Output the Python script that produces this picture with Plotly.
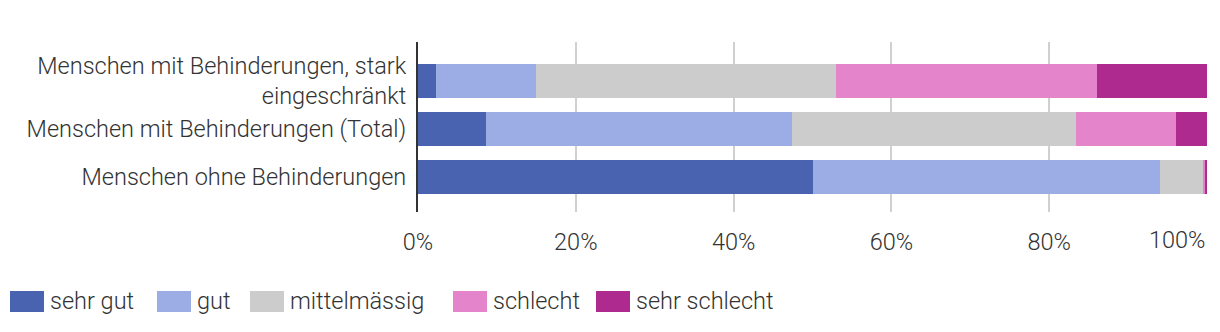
import plotly.graph_objects as go

# ---- data ----
categories = [
    "Menschen ohne Behinderungen",
    "Menschen mit Behinderungen (Total)",
    "Menschen mit Behinderungen, stark<br>eingeschränkt",
]
series_names = ["sehr gut", "gut", "mittelmässig", "schlecht", "sehr schlecht"]
sehr_gut = [50.0, 8.6, 2.3]
gut = [44.0, 38.8, 12.7]
mittelmaessig = [5.6, 36.0, 38.0]
schlecht = [0.2, 12.7, 33.0]
sehr_schlecht = [0.2, 3.9, 14.0]
x_tick_vals = [0, 20, 40, 60, 80, 100]
x_tick_text = ["0%", "20%", "40%", "60%", "80%", "100%"]

# ---- styles ----
colors = ["#4a63b0", "#9badE4", "#cccccc", "#e484ca", "#ae2a8f"]
FONT = dict(family="Roboto", size=23.5, color="#333333", weight=300)

W, H = 1220, 332
L, R, T, B = 418, 13, 42, 120
PW, PH = W - L - R, H - T - B

fig = go.Figure()
for name, vals, col in zip(series_names,
                           [sehr_gut, gut, mittelmaessig, schlecht, sehr_schlecht],
                           colors):
    fig.add_trace(go.Bar(y=categories, x=vals, name=name, orientation="h",
                         marker=dict(color=col, line=dict(width=0)),
                         showlegend=False))

def px_x(p):
    return (p - L) / PW

def px_y(p):
    return (H - B - p) / PH

shapes = []
annotations = []
legend_swatch_x = [10, 157, 250, 453, 596]
for name, col, sx in zip(series_names, colors, legend_swatch_x):
    shapes.append(dict(type="rect", xref="paper", yref="paper",
                       x0=px_x(sx), x1=px_x(sx + 34), y0=px_y(312), y1=px_y(291),
                       fillcolor=col, line=dict(width=0), layer="above"))
    annotations.append(dict(text=name, xref="paper", yref="paper",
                            x=px_x(sx + 38), y=px_y(300.5), xanchor="left",
                            yanchor="middle", showarrow=False, font=FONT))

# last x tick label is right-aligned to stay inside the canvas
annotations.append(dict(text=x_tick_text[-1], xref="x", yref="paper",
                        x=x_tick_vals[-1], y=px_y(240), xanchor="right",
                        yanchor="middle", showarrow=False, font=FONT))

fig.update_layout(
    barmode="stack",
    width=W, height=H,
    margin=dict(l=L, r=R, t=T, b=B, pad=0),
    paper_bgcolor="white", plot_bgcolor="white",
    font=FONT,
    bargap=0.29,
    shapes=shapes,
    annotations=annotations,
    xaxis=dict(range=[0, 100], tickvals=x_tick_vals,
               ticktext=x_tick_text[:-1] + [""],
               showgrid=True, gridcolor="#d0d0d0", gridwidth=2,
               zeroline=False, showline=False, ticks="",
               ticklabelstandoff=13, fixedrange=True),
    yaxis=dict(range=[-0.729, 2.8125], showline=True, linecolor="#333333",
               linewidth=2, showgrid=False, zeroline=False, ticks="",
               ticklabelstandoff=5, fixedrange=True),
)

fig.write_html("out.html")
